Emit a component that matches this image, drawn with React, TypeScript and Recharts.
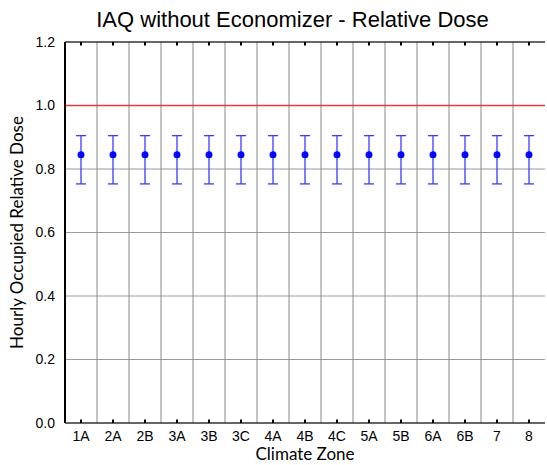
import React from 'react';
import {
  ComposedChart,
  Scatter,
  ErrorBar,
  XAxis,
  YAxis,
  CartesianGrid,
  ReferenceLine,
} from 'recharts';

const zones = ['1A', '2A', '2B', '3A', '3B', '3C', '4A', '4B', '4C', '5A', '5B', '6A', '6B', '7', '8'];
const meanDose = [0.845, 0.845, 0.845, 0.845, 0.845, 0.845, 0.845, 0.845, 0.845, 0.845, 0.845, 0.845, 0.845, 0.845, 0.845];
const lowDose = [0.753, 0.753, 0.753, 0.753, 0.753, 0.753, 0.753, 0.753, 0.753, 0.753, 0.753, 0.753, 0.753, 0.753, 0.753];
const highDose = [0.905, 0.905, 0.905, 0.905, 0.905, 0.905, 0.905, 0.905, 0.905, 0.905, 0.905, 0.905, 0.905, 0.905, 0.905];
const yTicks = [0, 0.2, 0.4, 0.6, 0.8, 1.0, 1.2];
const limit = 1.0;

const data = zones.map((z, i) => ({
  x: i + 1,
  zone: z,
  dose: meanDose[i],
  err: [meanDose[i] - lowDose[i], highDose[i] - meanDose[i]],
}));

// boundaries between climate zones
const dividers = zones.slice(1).map((_, i) => i + 1.5);
const xTicks = zones.map((_, i) => i + 1);
const tickLen = 0.011; // inner tick marks, in y units

const tickFont = { fontFamily: 'Liberation Sans, Arial, sans-serif', fontSize: 14, fill: '#000' };
const labelFont = 'Lato, sans-serif';

const App: React.FC = () => {
  return (
    <div style={{ position: 'absolute', left: 0, top: 0, width: 547, height: 465, background: '#fff' }}>
      <div
        style={{
          position: 'absolute',
          left: 40,
          width: 505,
          top: 7,
          textAlign: 'center',
          fontFamily: 'Liberation Sans, Arial, sans-serif',
          fontSize: 22,
          color: '#000',
        }}
      >
        IAQ without Economizer - Relative Dose
      </div>
      <ComposedChart width={547} height={465} data={data} margin={{ top: 42, right: 2, left: 0, bottom: 0 }}>
        <CartesianGrid vertical={false} stroke="#9a9a9a" strokeDasharray="" />
        {dividers.map((d) => (
          <ReferenceLine key={d} x={d} stroke="#8a8a8a" />
        ))}
        <XAxis
          dataKey="x"
          type="number"
          domain={[0.5, 15.5]}
          ticks={xTicks}
          interval={0}
          tickFormatter={(v: number) => zones[v - 1]}
          tick={tickFont}
          tickLine={false}
          tickSize={6}
          tickMargin={2}
          axisLine={{ stroke: '#000' }}
          height={42}
          label={{ value: 'Climate Zone', position: 'insideBottom', offset: 5, style: { fontFamily: labelFont, fontSize: 17, fill: '#000' } }}
        />
        <YAxis
          domain={[0, 1.2]}
          ticks={yTicks}
          interval={0}
          tickFormatter={(v: number) => v.toFixed(1)}
          tick={tickFont}
          tickLine={false}
          tickSize={8}
          tickMargin={2}
          axisLine={{ stroke: '#000', strokeWidth: 2 }}
          width={65}
          label={{
            value: 'Hourly Occupied Relative Dose',
            angle: -90,
            position: 'insideLeft',
            offset: 17,
            style: { textAnchor: 'middle', fontFamily: labelFont, fontSize: 17, fill: '#000' },
          }}
        />
        <ReferenceLine y={1.2} stroke="#000" strokeWidth={1.2} />
        {xTicks.map((t) => (
          <ReferenceLine key={'t' + t} segment={[{ x: t, y: 1.2 }, { x: t, y: 1.2 - tickLen }]} stroke="#000" strokeWidth={2} />
        ))}
        {xTicks.map((t) => (
          <ReferenceLine key={'b' + t} segment={[{ x: t, y: 0 }, { x: t, y: tickLen }]} stroke="#000" strokeWidth={2} />
        ))}
        <ReferenceLine y={limit} stroke="#e03a3a" strokeWidth={1.5} />
        <Scatter dataKey="dose" fill="#0000ff" isAnimationActive={false} shape={(p: any) => <circle cx={p.cx} cy={p.cy} r={3.5} fill="#0000ff" />}>
          <ErrorBar dataKey="err" direction="y" width={5} stroke="#3b3bff" strokeWidth={1.3} />
        </Scatter>
      </ComposedChart>
    </div>
  );
};

export default App;
